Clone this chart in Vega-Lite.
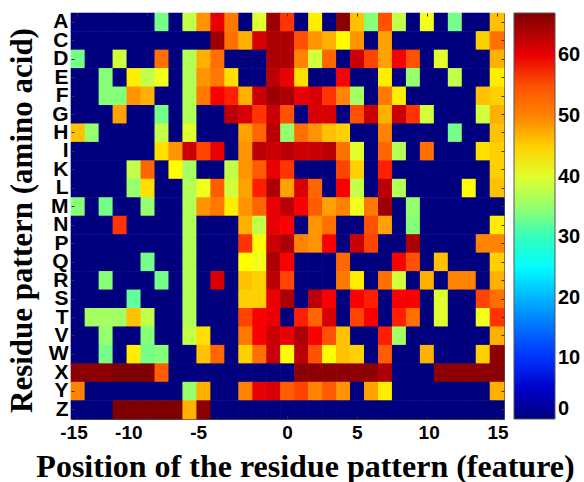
{"$schema":"https://vega.github.io/schema/vega-lite/v6.json","width":433,"height":406,"autosize":"none","padding":{"left":71,"top":13,"right":80,"bottom":63},"background":"white","config":{"view":{"stroke":"#555555","strokeWidth":1},"axis":{"domain":false,"grid":false}},
"datasets":{"cells":[
{"p":-15,"r":"A","v":0},{"p":-14,"r":"A","v":0},{"p":-13,"r":"A","v":0},{"p":-12,"r":"A","v":0},{"p":-11,"r":"A","v":0},{"p":-10,"r":"A","v":0},{"p":-9,"r":"A","v":33},{"p":-8,"r":"A","v":0},{"p":-7,"r":"A","v":38},{"p":-6,"r":"A","v":49},{"p":-5,"r":"A","v":60},{"p":-4,"r":"A","v":51},{"p":-3,"r":"A","v":0},{"p":-2,"r":"A","v":40},{"p":-1,"r":"A","v":65},{"p":0,"r":"A","v":57},{"p":1,"r":"A","v":0},{"p":2,"r":"A","v":43},{"p":3,"r":"A","v":0},{"p":4,"r":"A","v":66},{"p":5,"r":"A","v":46},{"p":6,"r":"A","v":34},{"p":7,"r":"A","v":55},{"p":8,"r":"A","v":38},{"p":9,"r":"A","v":0},{"p":10,"r":"A","v":41},{"p":11,"r":"A","v":0},{"p":12,"r":"A","v":33},{"p":13,"r":"A","v":0},{"p":14,"r":"A","v":0},{"p":15,"r":"A","v":46},
{"p":-15,"r":"C","v":0},{"p":-14,"r":"C","v":0},{"p":-13,"r":"C","v":0},{"p":-12,"r":"C","v":0},{"p":-11,"r":"C","v":0},{"p":-10,"r":"C","v":0},{"p":-9,"r":"C","v":0},{"p":-8,"r":"C","v":0},{"p":-7,"r":"C","v":0},{"p":-6,"r":"C","v":0},{"p":-5,"r":"C","v":65},{"p":-4,"r":"C","v":52},{"p":-3,"r":"C","v":47},{"p":-2,"r":"C","v":61},{"p":-1,"r":"C","v":64},{"p":0,"r":"C","v":64},{"p":1,"r":"C","v":55},{"p":2,"r":"C","v":49},{"p":3,"r":"C","v":47},{"p":4,"r":"C","v":42},{"p":5,"r":"C","v":49},{"p":6,"r":"C","v":0},{"p":7,"r":"C","v":48},{"p":8,"r":"C","v":0},{"p":9,"r":"C","v":0},{"p":10,"r":"C","v":0},{"p":11,"r":"C","v":0},{"p":12,"r":"C","v":0},{"p":13,"r":"C","v":0},{"p":14,"r":"C","v":45},{"p":15,"r":"C","v":52},
{"p":-15,"r":"D","v":33},{"p":-14,"r":"D","v":0},{"p":-13,"r":"D","v":0},{"p":-12,"r":"D","v":39},{"p":-11,"r":"D","v":0},{"p":-10,"r":"D","v":0},{"p":-9,"r":"D","v":52},{"p":-8,"r":"D","v":0},{"p":-7,"r":"D","v":37},{"p":-6,"r":"D","v":47},{"p":-5,"r":"D","v":52},{"p":-4,"r":"D","v":0},{"p":-3,"r":"D","v":0},{"p":-2,"r":"D","v":0},{"p":-1,"r":"D","v":64},{"p":0,"r":"D","v":64},{"p":1,"r":"D","v":50},{"p":2,"r":"D","v":39},{"p":3,"r":"D","v":53},{"p":4,"r":"D","v":0},{"p":5,"r":"D","v":62},{"p":6,"r":"D","v":56},{"p":7,"r":"D","v":48},{"p":8,"r":"D","v":59},{"p":9,"r":"D","v":55},{"p":10,"r":"D","v":0},{"p":11,"r":"D","v":40},{"p":12,"r":"D","v":0},{"p":13,"r":"D","v":0},{"p":14,"r":"D","v":0},{"p":15,"r":"D","v":47},
{"p":-15,"r":"E","v":0},{"p":-14,"r":"E","v":0},{"p":-13,"r":"E","v":34},{"p":-12,"r":"E","v":0},{"p":-11,"r":"E","v":43},{"p":-10,"r":"E","v":38},{"p":-9,"r":"E","v":41},{"p":-8,"r":"E","v":0},{"p":-7,"r":"E","v":37},{"p":-6,"r":"E","v":49},{"p":-5,"r":"E","v":51},{"p":-4,"r":"E","v":44},{"p":-3,"r":"E","v":0},{"p":-2,"r":"E","v":0},{"p":-1,"r":"E","v":63},{"p":0,"r":"E","v":60},{"p":1,"r":"E","v":44},{"p":2,"r":"E","v":0},{"p":3,"r":"E","v":0},{"p":4,"r":"E","v":59},{"p":5,"r":"E","v":0},{"p":6,"r":"E","v":0},{"p":7,"r":"E","v":43},{"p":8,"r":"E","v":0},{"p":9,"r":"E","v":35},{"p":10,"r":"E","v":0},{"p":11,"r":"E","v":0},{"p":12,"r":"E","v":38},{"p":13,"r":"E","v":0},{"p":14,"r":"E","v":0},{"p":15,"r":"E","v":43},
{"p":-15,"r":"F","v":0},{"p":-14,"r":"F","v":0},{"p":-13,"r":"F","v":34},{"p":-12,"r":"F","v":34},{"p":-11,"r":"F","v":49},{"p":-10,"r":"F","v":47},{"p":-9,"r":"F","v":0},{"p":-8,"r":"F","v":0},{"p":-7,"r":"F","v":37},{"p":-6,"r":"F","v":51},{"p":-5,"r":"F","v":59},{"p":-4,"r":"F","v":58},{"p":-3,"r":"F","v":47},{"p":-2,"r":"F","v":62},{"p":-1,"r":"F","v":65},{"p":0,"r":"F","v":64},{"p":1,"r":"F","v":60},{"p":2,"r":"F","v":61},{"p":3,"r":"F","v":57},{"p":4,"r":"F","v":50},{"p":5,"r":"F","v":36},{"p":6,"r":"F","v":0},{"p":7,"r":"F","v":51},{"p":8,"r":"F","v":43},{"p":9,"r":"F","v":0},{"p":10,"r":"F","v":0},{"p":11,"r":"F","v":0},{"p":12,"r":"F","v":0},{"p":13,"r":"F","v":0},{"p":14,"r":"F","v":46},{"p":15,"r":"F","v":45},
{"p":-15,"r":"G","v":0},{"p":-14,"r":"G","v":0},{"p":-13,"r":"G","v":0},{"p":-12,"r":"G","v":48},{"p":-11,"r":"G","v":0},{"p":-10,"r":"G","v":0},{"p":-9,"r":"G","v":33},{"p":-8,"r":"G","v":0},{"p":-7,"r":"G","v":37},{"p":-6,"r":"G","v":0},{"p":-5,"r":"G","v":0},{"p":-4,"r":"G","v":63},{"p":-3,"r":"G","v":61},{"p":-2,"r":"G","v":57},{"p":-1,"r":"G","v":62},{"p":0,"r":"G","v":55},{"p":1,"r":"G","v":0},{"p":2,"r":"G","v":61},{"p":3,"r":"G","v":61},{"p":4,"r":"G","v":0},{"p":5,"r":"G","v":55},{"p":6,"r":"G","v":62},{"p":7,"r":"G","v":47},{"p":8,"r":"G","v":62},{"p":9,"r":"G","v":57},{"p":10,"r":"G","v":39},{"p":11,"r":"G","v":0},{"p":12,"r":"G","v":0},{"p":13,"r":"G","v":0},{"p":14,"r":"G","v":39},{"p":15,"r":"G","v":47},
{"p":-15,"r":"H","v":46},{"p":-14,"r":"H","v":35},{"p":-13,"r":"H","v":0},{"p":-12,"r":"H","v":0},{"p":-11,"r":"H","v":0},{"p":-10,"r":"H","v":0},{"p":-9,"r":"H","v":38},{"p":-8,"r":"H","v":0},{"p":-7,"r":"H","v":40},{"p":-6,"r":"H","v":0},{"p":-5,"r":"H","v":0},{"p":-4,"r":"H","v":0},{"p":-3,"r":"H","v":48},{"p":-2,"r":"H","v":53},{"p":-1,"r":"H","v":63},{"p":0,"r":"H","v":35},{"p":1,"r":"H","v":52},{"p":2,"r":"H","v":49},{"p":3,"r":"H","v":46},{"p":4,"r":"H","v":45},{"p":5,"r":"H","v":0},{"p":6,"r":"H","v":0},{"p":7,"r":"H","v":50},{"p":8,"r":"H","v":0},{"p":9,"r":"H","v":0},{"p":10,"r":"H","v":0},{"p":11,"r":"H","v":0},{"p":12,"r":"H","v":33},{"p":13,"r":"H","v":0},{"p":14,"r":"H","v":0},{"p":15,"r":"H","v":46},
{"p":-15,"r":"I","v":0},{"p":-14,"r":"I","v":0},{"p":-13,"r":"I","v":0},{"p":-12,"r":"I","v":0},{"p":-11,"r":"I","v":0},{"p":-10,"r":"I","v":0},{"p":-9,"r":"I","v":44},{"p":-8,"r":"I","v":49},{"p":-7,"r":"I","v":62},{"p":-6,"r":"I","v":56},{"p":-5,"r":"I","v":60},{"p":-4,"r":"I","v":0},{"p":-3,"r":"I","v":49},{"p":-2,"r":"I","v":63},{"p":-1,"r":"I","v":62},{"p":0,"r":"I","v":63},{"p":1,"r":"I","v":62},{"p":2,"r":"I","v":62},{"p":3,"r":"I","v":63},{"p":4,"r":"I","v":52},{"p":5,"r":"I","v":40},{"p":6,"r":"I","v":0},{"p":7,"r":"I","v":53},{"p":8,"r":"I","v":37},{"p":9,"r":"I","v":0},{"p":10,"r":"I","v":52},{"p":11,"r":"I","v":0},{"p":12,"r":"I","v":0},{"p":13,"r":"I","v":0},{"p":14,"r":"I","v":44},{"p":15,"r":"I","v":45},
{"p":-15,"r":"K","v":0},{"p":-14,"r":"K","v":0},{"p":-13,"r":"K","v":0},{"p":-12,"r":"K","v":0},{"p":-11,"r":"K","v":38},{"p":-10,"r":"K","v":53},{"p":-9,"r":"K","v":0},{"p":-8,"r":"K","v":42},{"p":-7,"r":"K","v":36},{"p":-6,"r":"K","v":0},{"p":-5,"r":"K","v":0},{"p":-4,"r":"K","v":38},{"p":-3,"r":"K","v":49},{"p":-2,"r":"K","v":54},{"p":-1,"r":"K","v":60},{"p":0,"r":"K","v":57},{"p":1,"r":"K","v":0},{"p":2,"r":"K","v":0},{"p":3,"r":"K","v":0},{"p":4,"r":"K","v":56},{"p":5,"r":"K","v":45},{"p":6,"r":"K","v":0},{"p":7,"r":"K","v":58},{"p":8,"r":"K","v":0},{"p":9,"r":"K","v":0},{"p":10,"r":"K","v":0},{"p":11,"r":"K","v":0},{"p":12,"r":"K","v":0},{"p":13,"r":"K","v":0},{"p":14,"r":"K","v":0},{"p":15,"r":"K","v":45},
{"p":-15,"r":"L","v":0},{"p":-14,"r":"L","v":0},{"p":-13,"r":"L","v":0},{"p":-12,"r":"L","v":0},{"p":-11,"r":"L","v":35},{"p":-10,"r":"L","v":44},{"p":-9,"r":"L","v":0},{"p":-8,"r":"L","v":0},{"p":-7,"r":"L","v":37},{"p":-6,"r":"L","v":41},{"p":-5,"r":"L","v":54},{"p":-4,"r":"L","v":39},{"p":-3,"r":"L","v":48},{"p":-2,"r":"L","v":58},{"p":-1,"r":"L","v":64},{"p":0,"r":"L","v":48},{"p":1,"r":"L","v":61},{"p":2,"r":"L","v":53},{"p":3,"r":"L","v":0},{"p":4,"r":"L","v":59},{"p":5,"r":"L","v":38},{"p":6,"r":"L","v":0},{"p":7,"r":"L","v":63},{"p":8,"r":"L","v":37},{"p":9,"r":"L","v":0},{"p":10,"r":"L","v":0},{"p":11,"r":"L","v":0},{"p":12,"r":"L","v":0},{"p":13,"r":"L","v":42},{"p":14,"r":"L","v":0},{"p":15,"r":"L","v":46},
{"p":-15,"r":"M","v":34},{"p":-14,"r":"M","v":0},{"p":-13,"r":"M","v":33},{"p":-12,"r":"M","v":0},{"p":-11,"r":"M","v":0},{"p":-10,"r":"M","v":35},{"p":-9,"r":"M","v":0},{"p":-8,"r":"M","v":0},{"p":-7,"r":"M","v":37},{"p":-6,"r":"M","v":49},{"p":-5,"r":"M","v":51},{"p":-4,"r":"M","v":43},{"p":-3,"r":"M","v":49},{"p":-2,"r":"M","v":53},{"p":-1,"r":"M","v":60},{"p":0,"r":"M","v":63},{"p":1,"r":"M","v":59},{"p":2,"r":"M","v":54},{"p":3,"r":"M","v":48},{"p":4,"r":"M","v":50},{"p":5,"r":"M","v":41},{"p":6,"r":"M","v":51},{"p":7,"r":"M","v":65},{"p":8,"r":"M","v":0},{"p":9,"r":"M","v":35},{"p":10,"r":"M","v":0},{"p":11,"r":"M","v":0},{"p":12,"r":"M","v":0},{"p":13,"r":"M","v":0},{"p":14,"r":"M","v":0},{"p":15,"r":"M","v":0},
{"p":-15,"r":"N","v":0},{"p":-14,"r":"N","v":0},{"p":-13,"r":"N","v":0},{"p":-12,"r":"N","v":57},{"p":-11,"r":"N","v":0},{"p":-10,"r":"N","v":0},{"p":-9,"r":"N","v":0},{"p":-8,"r":"N","v":0},{"p":-7,"r":"N","v":37},{"p":-6,"r":"N","v":0},{"p":-5,"r":"N","v":0},{"p":-4,"r":"N","v":0},{"p":-3,"r":"N","v":47},{"p":-2,"r":"N","v":38},{"p":-1,"r":"N","v":60},{"p":0,"r":"N","v":59},{"p":1,"r":"N","v":0},{"p":2,"r":"N","v":49},{"p":3,"r":"N","v":52},{"p":4,"r":"N","v":0},{"p":5,"r":"N","v":0},{"p":6,"r":"N","v":55},{"p":7,"r":"N","v":48},{"p":8,"r":"N","v":0},{"p":9,"r":"N","v":34},{"p":10,"r":"N","v":0},{"p":11,"r":"N","v":0},{"p":12,"r":"N","v":0},{"p":13,"r":"N","v":0},{"p":14,"r":"N","v":0},{"p":15,"r":"N","v":43},
{"p":-15,"r":"P","v":0},{"p":-14,"r":"P","v":0},{"p":-13,"r":"P","v":0},{"p":-12,"r":"P","v":0},{"p":-11,"r":"P","v":0},{"p":-10,"r":"P","v":0},{"p":-9,"r":"P","v":0},{"p":-8,"r":"P","v":0},{"p":-7,"r":"P","v":37},{"p":-6,"r":"P","v":0},{"p":-5,"r":"P","v":0},{"p":-4,"r":"P","v":0},{"p":-3,"r":"P","v":57},{"p":-2,"r":"P","v":42},{"p":-1,"r":"P","v":62},{"p":0,"r":"P","v":64},{"p":1,"r":"P","v":50},{"p":2,"r":"P","v":49},{"p":3,"r":"P","v":59},{"p":4,"r":"P","v":0},{"p":5,"r":"P","v":62},{"p":6,"r":"P","v":56},{"p":7,"r":"P","v":0},{"p":8,"r":"P","v":0},{"p":9,"r":"P","v":64},{"p":10,"r":"P","v":0},{"p":11,"r":"P","v":0},{"p":12,"r":"P","v":0},{"p":13,"r":"P","v":0},{"p":14,"r":"P","v":50},{"p":15,"r":"P","v":50},
{"p":-15,"r":"Q","v":0},{"p":-14,"r":"Q","v":0},{"p":-13,"r":"Q","v":0},{"p":-12,"r":"Q","v":0},{"p":-11,"r":"Q","v":0},{"p":-10,"r":"Q","v":33},{"p":-9,"r":"Q","v":0},{"p":-8,"r":"Q","v":0},{"p":-7,"r":"Q","v":37},{"p":-6,"r":"Q","v":0},{"p":-5,"r":"Q","v":0},{"p":-4,"r":"Q","v":0},{"p":-3,"r":"Q","v":42},{"p":-2,"r":"Q","v":41},{"p":-1,"r":"Q","v":64},{"p":0,"r":"Q","v":59},{"p":1,"r":"Q","v":0},{"p":2,"r":"Q","v":0},{"p":3,"r":"Q","v":0},{"p":4,"r":"Q","v":53},{"p":5,"r":"Q","v":0},{"p":6,"r":"Q","v":0},{"p":7,"r":"Q","v":0},{"p":8,"r":"Q","v":59},{"p":9,"r":"Q","v":55},{"p":10,"r":"Q","v":0},{"p":11,"r":"Q","v":46},{"p":12,"r":"Q","v":0},{"p":13,"r":"Q","v":0},{"p":14,"r":"Q","v":0},{"p":15,"r":"Q","v":45},
{"p":-15,"r":"R","v":0},{"p":-14,"r":"R","v":0},{"p":-13,"r":"R","v":34},{"p":-12,"r":"R","v":0},{"p":-11,"r":"R","v":0},{"p":-10,"r":"R","v":0},{"p":-9,"r":"R","v":33},{"p":-8,"r":"R","v":0},{"p":-7,"r":"R","v":37},{"p":-6,"r":"R","v":0},{"p":-5,"r":"R","v":61},{"p":-4,"r":"R","v":0},{"p":-3,"r":"R","v":46},{"p":-2,"r":"R","v":45},{"p":-1,"r":"R","v":63},{"p":0,"r":"R","v":56},{"p":1,"r":"R","v":0},{"p":2,"r":"R","v":0},{"p":3,"r":"R","v":0},{"p":4,"r":"R","v":51},{"p":5,"r":"R","v":43},{"p":6,"r":"R","v":0},{"p":7,"r":"R","v":52},{"p":8,"r":"R","v":39},{"p":9,"r":"R","v":0},{"p":10,"r":"R","v":47},{"p":11,"r":"R","v":0},{"p":12,"r":"R","v":50},{"p":13,"r":"R","v":50},{"p":14,"r":"R","v":0},{"p":15,"r":"R","v":47},
{"p":-15,"r":"S","v":0},{"p":-14,"r":"S","v":0},{"p":-13,"r":"S","v":0},{"p":-12,"r":"S","v":0},{"p":-11,"r":"S","v":32},{"p":-10,"r":"S","v":0},{"p":-9,"r":"S","v":0},{"p":-8,"r":"S","v":0},{"p":-7,"r":"S","v":37},{"p":-6,"r":"S","v":0},{"p":-5,"r":"S","v":0},{"p":-4,"r":"S","v":0},{"p":-3,"r":"S","v":45},{"p":-2,"r":"S","v":45},{"p":-1,"r":"S","v":60},{"p":0,"r":"S","v":64},{"p":1,"r":"S","v":0},{"p":2,"r":"S","v":63},{"p":3,"r":"S","v":59},{"p":4,"r":"S","v":0},{"p":5,"r":"S","v":59},{"p":6,"r":"S","v":58},{"p":7,"r":"S","v":0},{"p":8,"r":"S","v":59},{"p":9,"r":"S","v":59},{"p":10,"r":"S","v":0},{"p":11,"r":"S","v":40},{"p":12,"r":"S","v":0},{"p":13,"r":"S","v":0},{"p":14,"r":"S","v":56},{"p":15,"r":"S","v":52},
{"p":-15,"r":"T","v":0},{"p":-14,"r":"T","v":36},{"p":-13,"r":"T","v":36},{"p":-12,"r":"T","v":36},{"p":-11,"r":"T","v":46},{"p":-10,"r":"T","v":38},{"p":-9,"r":"T","v":0},{"p":-8,"r":"T","v":0},{"p":-7,"r":"T","v":37},{"p":-6,"r":"T","v":0},{"p":-5,"r":"T","v":0},{"p":-4,"r":"T","v":0},{"p":-3,"r":"T","v":56},{"p":-2,"r":"T","v":59},{"p":-1,"r":"T","v":60},{"p":0,"r":"T","v":0},{"p":1,"r":"T","v":58},{"p":2,"r":"T","v":53},{"p":3,"r":"T","v":61},{"p":4,"r":"T","v":0},{"p":5,"r":"T","v":56},{"p":6,"r":"T","v":59},{"p":7,"r":"T","v":0},{"p":8,"r":"T","v":58},{"p":9,"r":"T","v":52},{"p":10,"r":"T","v":0},{"p":11,"r":"T","v":40},{"p":12,"r":"T","v":0},{"p":13,"r":"T","v":0},{"p":14,"r":"T","v":41},{"p":15,"r":"T","v":57},
{"p":-15,"r":"V","v":0},{"p":-14,"r":"V","v":0},{"p":-13,"r":"V","v":35},{"p":-12,"r":"V","v":0},{"p":-11,"r":"V","v":0},{"p":-10,"r":"V","v":34},{"p":-9,"r":"V","v":0},{"p":-8,"r":"V","v":0},{"p":-7,"r":"V","v":38},{"p":-6,"r":"V","v":44},{"p":-5,"r":"V","v":0},{"p":-4,"r":"V","v":0},{"p":-3,"r":"V","v":51},{"p":-2,"r":"V","v":59},{"p":-1,"r":"V","v":62},{"p":0,"r":"V","v":60},{"p":1,"r":"V","v":64},{"p":2,"r":"V","v":59},{"p":3,"r":"V","v":55},{"p":4,"r":"V","v":46},{"p":5,"r":"V","v":0},{"p":6,"r":"V","v":0},{"p":7,"r":"V","v":58},{"p":8,"r":"V","v":36},{"p":9,"r":"V","v":0},{"p":10,"r":"V","v":0},{"p":11,"r":"V","v":0},{"p":12,"r":"V","v":0},{"p":13,"r":"V","v":0},{"p":14,"r":"V","v":0},{"p":15,"r":"V","v":47},
{"p":-15,"r":"W","v":0},{"p":-14,"r":"W","v":0},{"p":-13,"r":"W","v":33},{"p":-12,"r":"W","v":0},{"p":-11,"r":"W","v":43},{"p":-10,"r":"W","v":33},{"p":-9,"r":"W","v":34},{"p":-8,"r":"W","v":0},{"p":-7,"r":"W","v":0},{"p":-6,"r":"W","v":46},{"p":-5,"r":"W","v":53},{"p":-4,"r":"W","v":0},{"p":-3,"r":"W","v":45},{"p":-2,"r":"W","v":52},{"p":-1,"r":"W","v":62},{"p":0,"r":"W","v":42},{"p":1,"r":"W","v":63},{"p":2,"r":"W","v":55},{"p":3,"r":"W","v":42},{"p":4,"r":"W","v":46},{"p":5,"r":"W","v":45},{"p":6,"r":"W","v":0},{"p":7,"r":"W","v":54},{"p":8,"r":"W","v":0},{"p":9,"r":"W","v":0},{"p":10,"r":"W","v":47},{"p":11,"r":"W","v":0},{"p":12,"r":"W","v":0},{"p":13,"r":"W","v":0},{"p":14,"r":"W","v":45},{"p":15,"r":"W","v":66},
{"p":-15,"r":"X","v":66},{"p":-14,"r":"X","v":66},{"p":-13,"r":"X","v":66},{"p":-12,"r":"X","v":67},{"p":-11,"r":"X","v":67},{"p":-10,"r":"X","v":67},{"p":-9,"r":"X","v":54},{"p":-8,"r":"X","v":0},{"p":-7,"r":"X","v":0},{"p":-6,"r":"X","v":0},{"p":-5,"r":"X","v":0},{"p":-4,"r":"X","v":0},{"p":-3,"r":"X","v":0},{"p":-2,"r":"X","v":0},{"p":-1,"r":"X","v":0},{"p":0,"r":"X","v":0},{"p":1,"r":"X","v":66},{"p":2,"r":"X","v":66},{"p":3,"r":"X","v":66},{"p":4,"r":"X","v":66},{"p":5,"r":"X","v":66},{"p":6,"r":"X","v":66},{"p":7,"r":"X","v":64},{"p":8,"r":"X","v":0},{"p":9,"r":"X","v":0},{"p":10,"r":"X","v":0},{"p":11,"r":"X","v":66},{"p":12,"r":"X","v":66},{"p":13,"r":"X","v":66},{"p":14,"r":"X","v":66},{"p":15,"r":"X","v":66},
{"p":-15,"r":"Y","v":50},{"p":-14,"r":"Y","v":0},{"p":-13,"r":"Y","v":0},{"p":-12,"r":"Y","v":0},{"p":-11,"r":"Y","v":0},{"p":-10,"r":"Y","v":0},{"p":-9,"r":"Y","v":0},{"p":-8,"r":"Y","v":0},{"p":-7,"r":"Y","v":35},{"p":-6,"r":"Y","v":47},{"p":-5,"r":"Y","v":0},{"p":-4,"r":"Y","v":0},{"p":-3,"r":"Y","v":50},{"p":-2,"r":"Y","v":60},{"p":-1,"r":"Y","v":61},{"p":0,"r":"Y","v":54},{"p":1,"r":"Y","v":56},{"p":2,"r":"Y","v":50},{"p":3,"r":"Y","v":54},{"p":4,"r":"Y","v":49},{"p":5,"r":"Y","v":0},{"p":6,"r":"Y","v":48},{"p":7,"r":"Y","v":43},{"p":8,"r":"Y","v":0},{"p":9,"r":"Y","v":0},{"p":10,"r":"Y","v":0},{"p":11,"r":"Y","v":0},{"p":12,"r":"Y","v":0},{"p":13,"r":"Y","v":0},{"p":14,"r":"Y","v":0},{"p":15,"r":"Y","v":47},
{"p":-15,"r":"Z","v":0},{"p":-14,"r":"Z","v":0},{"p":-13,"r":"Z","v":0},{"p":-12,"r":"Z","v":67},{"p":-11,"r":"Z","v":67},{"p":-10,"r":"Z","v":67},{"p":-9,"r":"Z","v":67},{"p":-8,"r":"Z","v":67},{"p":-7,"r":"Z","v":47},{"p":-6,"r":"Z","v":66},{"p":-5,"r":"Z","v":0},{"p":-4,"r":"Z","v":0},{"p":-3,"r":"Z","v":0},{"p":-2,"r":"Z","v":0},{"p":-1,"r":"Z","v":0},{"p":0,"r":"Z","v":0},{"p":1,"r":"Z","v":0},{"p":2,"r":"Z","v":0},{"p":3,"r":"Z","v":0},{"p":4,"r":"Z","v":0},{"p":5,"r":"Z","v":0},{"p":6,"r":"Z","v":0},{"p":7,"r":"Z","v":0},{"p":8,"r":"Z","v":0},{"p":9,"r":"Z","v":0},{"p":10,"r":"Z","v":0},{"p":11,"r":"Z","v":0},{"p":12,"r":"Z","v":0},{"p":13,"r":"Z","v":0},{"p":14,"r":"Z","v":0},{"p":15,"r":"Z","v":0}
]},
"data":{"name":"cells"},
"layer":[
{"mark":{"type":"rect","width":14.6,"height":19},
"encoding":{
"x":{"field":"p","type":"ordinal","scale":{"paddingInner":0,"paddingOuter":0},"axis":{"values":[-15,-10,-5,0,5,10,15],"zindex":1,"labelAngle":0,"labelFont":"Liberation Sans","labelFontWeight":"bold","labelFontSize":19,"labelColor":"#000000","labelPadding":7,"tickSize":-3,"tickColor":"#333333","labelOffset":{"condition":[{"test":"datum.value===-15","value":-4},{"test":"datum.value===-10","value":-19},{"test":"datum.value===-5","value":-19},{"test":"datum.value===10","value":2},{"test":"datum.value===15","value":1}],"value":0},"title":"Position of the residue pattern (feature)","titleFont":"Liberation Serif","titleFontWeight":"bold","titleFontSize":32,"titleColor":"#000000","titleX":234,"titleY":57,"titleBaseline":"alphabetic"}},
"y":{"field":"r","type":"ordinal","sort":null,"scale":{"paddingInner":0,"paddingOuter":0},"axis":{"zindex":1,"labelFont":"Liberation Sans","labelFontWeight":"bold","labelFontSize":21,"labelColor":"#000000","labelPadding":6,"tickSize":-3,"tickColor":"#333333","title":"Residue pattern (amino acid)","titleFont":"Liberation Serif","titleFontWeight":"bold","titleFontSize":31,"titleColor":"#000000","titleX":-40,"titleY":207,"titleBaseline":"alphabetic"}},
"color":{"field":"v","type":"quantitative","scale":{"domain":[0,67],"range":["#00007f","#0000ff","#007fff","#00ffff","#7fff7f","#ffff00","#ff7f00","#ff0000","#7f0000"]},"legend":{"orient":"none","legendX":443,"legendY":0,"padding":0,"title":null,"gradientLength":406,"gradientThickness":41,"gradientStrokeColor":"#555555","gradientStrokeWidth":1,"values":[0,10,20,30,40,50,60],"labelFont":"Liberation Sans","labelFontWeight":"bold","labelFontSize":20,"labelColor":"#000000","labelOffset":3,"labelBaseline":"middle"}}
}},
{"mark":{"type":"rect","opacity":0},
"encoding":{
"x":{"field":"p","type":"ordinal","scale":{"paddingInner":0,"paddingOuter":0},"axis":{"orient":"top","values":[-15,-10,-5,0,5,10,15],"zindex":1,"labels":false,"title":null,"tickSize":-3,"tickColor":"#333333"}},
"y":{"field":"r","type":"ordinal","sort":null,"scale":{"paddingInner":0,"paddingOuter":0},"axis":{"orient":"right","zindex":1,"labels":false,"title":null,"tickSize":-3,"tickColor":"#333333"}}
}}
],
"resolve":{"axis":{"x":"independent","y":"independent"}}
}
